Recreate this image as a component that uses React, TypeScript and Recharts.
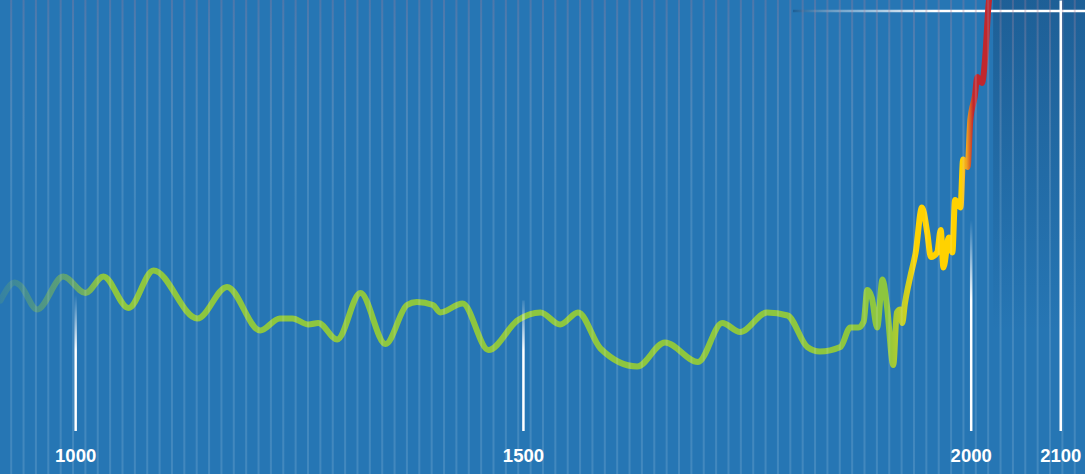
import { LineChart, Line, XAxis, YAxis, ReferenceLine, ReferenceArea } from 'recharts'

// reconstructed temperature anomaly (°C)
const years = [916, 932, 938, 957, 986, 1011, 1031, 1059, 1087, 1136, 1169, 1206, 1228, 1242, 1260, 1271, 1292, 1318, 1346, 1370, 1381, 1399, 1407, 1432, 1461, 1494, 1519, 1541, 1561, 1586, 1627, 1658, 1695, 1722, 1742, 1772, 1795, 1817, 1831, 1854, 1865, 1874, 1880, 1884, 1889, 1895, 1901, 1906, 1913, 1917, 1921, 1923, 1926, 1932, 1938, 1945, 1951, 1955, 1962, 1966, 1969, 1975, 1979, 1982, 1988, 1991, 1996, 1999, 2004, 2007, 2012, 2016, 2019, 2023]
const anomaly = [0.07, 0.19, 0.17, 0.01, 0.23, 0.12, 0.23, 0.02, 0.27, -0.05, 0.16, -0.13, -0.05, -0.05, -0.09, -0.08, -0.19, 0.12, -0.22, 0.04, 0.06, 0.04, -0.01, 0.05, -0.26, -0.06, -0.01, -0.09, -0.01, -0.25, -0.37, -0.21, -0.34, -0.08, -0.14, -0.01, -0.03, -0.24, -0.27, -0.24, -0.11, -0.11, -0.07, 0.14, 0.09, -0.11, 0.21, 0.03, -0.36, -0.01, 0.01, -0.08, 0.05, 0.23, 0.39, 0.69, 0.52, 0.36, 0.39, 0.54, 0.29, 0.49, 0.39, 0.74, 0.69, 1.01, 0.96, 1.27, 1.43, 1.56, 1.52, 1.72, 2.01, 2.21]

const tickYears = [1000, 1500, 2000, 2100]
const tickTops = [0.14, 0.07, 0.64, 2.07]
const targetLevel = 2.0

const gridYears: number[] = []
for (let y = 928; y < 2127; y += 13.81) gridYears.push(y)

const data = years.map((year, i) => ({ year, value: anomaly[i] }))

const X_DOMAIN: [number, number] = [915.5, 2127.1]
const Y_DOMAIN: [number, number] = [-1.0867, 2.0733]

export default function App() {
  return (
    <div style={{ position: 'absolute', left: 0, top: 0, width: 1085, height: 474, background: '#2676b4', overflow: 'hidden' }}>
      <LineChart width={1085} height={474} data={data} margin={{ top: 0, right: 0, bottom: 0, left: 0 }}>
        <defs>
          <linearGradient id="lineGrad" gradientUnits="userSpaceOnUse" x1={0} y1={0} x2={1085} y2={0}>
            <stop offset="0" stopColor="#8dc63f" stopOpacity={0.15} />
            <stop offset="0.07" stopColor="#8dc63f" stopOpacity={0.6} />
            <stop offset="0.095" stopColor="#8dc63f" stopOpacity={1} />
            <stop offset="0.818" stopColor="#8dc63f" />
            <stop offset="0.834" stopColor="#c9d024" />
            <stop offset="0.845" stopColor="#ffd200" />
            <stop offset="0.886" stopColor="#ffd200" />
            <stop offset="0.891" stopColor="#f0a020" />
            <stop offset="0.897" stopColor="#c1272d" />
            <stop offset="1" stopColor="#c1272d" />
          </linearGradient>
          <linearGradient id="gridGrad" gradientUnits="userSpaceOnUse" x1={0} y1={0} x2={0} y2={200}>
            <stop offset="0" stopColor="#a07a96" stopOpacity={0.32} />
            <stop offset="1" stopColor="#ffffff" stopOpacity={0.13} />
          </linearGradient>
          <linearGradient id="tickFade" gradientUnits="userSpaceOnUse" x1={0} y1={295} x2={0} y2={350}>
            <stop offset="0" stopColor="#ffffff" stopOpacity={0} />
            <stop offset="1" stopColor="#ffffff" stopOpacity={1} />
          </linearGradient>
          <linearGradient id="tickFade2" gradientUnits="userSpaceOnUse" x1={0} y1={220} x2={0} y2={300}>
            <stop offset="0" stopColor="#ffffff" stopOpacity={0} />
            <stop offset="1" stopColor="#ffffff" stopOpacity={1} />
          </linearGradient>
          <linearGradient id="levelGrad" gradientUnits="userSpaceOnUse" x1={793} y1={0} x2={935} y2={0}>
            <stop offset="0" stopColor="#17558a" stopOpacity={0.7} />
            <stop offset="0.45" stopColor="#ffffff" stopOpacity={0.45} />
            <stop offset="1" stopColor="#ffffff" stopOpacity={1} />
          </linearGradient>
          <linearGradient id="futureGrad" x1="0" y1="0" x2="0" y2="1">
            <stop offset="0" stopColor="#0e3560" stopOpacity={0.35} />
            <stop offset="0.7" stopColor="#0e3560" stopOpacity={0} />
          </linearGradient>
        </defs>
        <XAxis type="number" dataKey="year" domain={X_DOMAIN} allowDataOverflow hide />
        <YAxis type="number" domain={Y_DOMAIN} allowDataOverflow hide />
        <ReferenceArea x1={2024.5} x2={X_DOMAIN[1]} y1={Y_DOMAIN[0]} y2={Y_DOMAIN[1]} fill="url(#futureGrad)" fillOpacity={1} stroke="none" ifOverflow="visible" />
        <ReferenceLine
          segment={[{ x: 1801, y: targetLevel }, { x: X_DOMAIN[1], y: targetLevel }]}
          stroke="url(#levelGrad)" strokeWidth={2.5} ifOverflow="visible"
        />
        <Line type="monotone" dataKey="value" stroke="url(#lineGrad)" strokeWidth={6} dot={false}
          activeDot={false} isAnimationActive={false} strokeLinejoin="round" strokeLinecap="round" />
        {gridYears.map((g) => (
          <ReferenceLine key={g} x={g} stroke="url(#gridGrad)" strokeWidth={2} ifOverflow="visible" />
        ))}
        {tickYears.map((t, i) => (
          <ReferenceLine
            key={t}
            segment={[{ x: t, y: tickTops[i] }, { x: t, y: -0.8 }]}
            stroke={t === 2100 ? '#ffffff' : t === 2000 ? 'url(#tickFade2)' : 'url(#tickFade)'}
            strokeWidth={2.5}
            ifOverflow="visible"
            label={{ value: String(t), position: 'bottom', offset: 18, fill: '#ffffff', fontSize: 18.5, fontWeight: 700, fontFamily: '"Liberation Sans", Arial, sans-serif' }}
          />
        ))}
      </LineChart>
    </div>
  )
}
